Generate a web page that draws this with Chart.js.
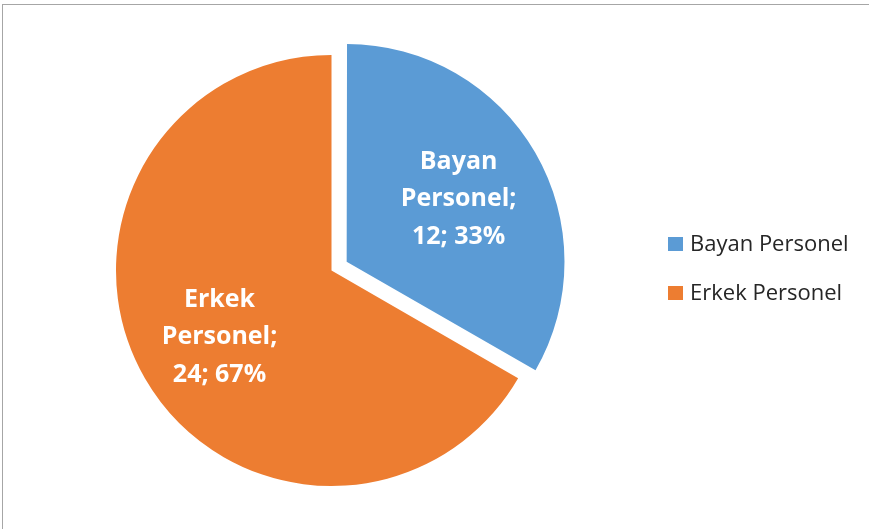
<!DOCTYPE html>
<html>
<head>
<meta charset="utf-8">
<script src="https://cdn.jsdelivr.net/npm/chart.js@4"></script>
<style>
  html, body { margin: 0; padding: 0; background: #fff; }
  #frame {
    position: absolute; left: 2px; top: 4px; width: 900px; height: 560px;
    border: 1px solid #a6a6a6; box-sizing: border-box;
  }
  #wrap { position: absolute; left: 0; top: 0; width: 869px; height: 529px; }
</style>
</head>
<body>
<div id="frame"></div>
<div id="wrap"><canvas id="pie" width="869" height="529"></canvas></div>
<script>
// chart data
const categories = ['Bayan Personel', 'Erkek Personel'];
const personelCounts = [12, 24];
const sliceColors = ['#5B9BD5', '#ED7D31'];

const total = personelCounts.reduce((a, b) => a + b, 0);

// white labels inside the slices: "name; value; percent"
const sliceLabels = {
  id: 'sliceLabels',
  afterDatasetsDraw(chart) {
    const ctx = chart.ctx;
    const meta = chart.getDatasetMeta(0);
    ctx.save();
    ctx.fillStyle = '#ffffff';
    ctx.font = 'bold 25px "Open Sans"';
    ctx.textAlign = 'center';
    ctx.textBaseline = 'alphabetic';
    meta.data.forEach((arc, i) => {
      const mid = (arc.startAngle + arc.endAngle) / 2;
      const shift = (arc.options.offset || 0) / 4; // arc draws with offset/4
      const dist = shift + arc.outerRadius * 0.6;
      const cx = arc.x + Math.cos(mid) * dist;
      const cy = arc.y + Math.sin(mid) * dist;
      const words = categories[i].split(' ');
      const pct = Math.round(personelCounts[i] / total * 100);
      const lines = [words[0], words.slice(1).join(' ') + ';', personelCounts[i] + '; ' + pct + '%'];
      lines.forEach((t, k) => {
        ctx.fillText(t, cx, cy + 9 + (k - 1) * 37.5);
      });
    });
    ctx.restore();
  }
};

// legend on the right, square markers
const sideLegend = {
  id: 'sideLegend',
  afterDraw(chart) {
    const ctx = chart.ctx;
    ctx.save();
    ctx.font = '22px "Open Sans"';
    ctx.textBaseline = 'middle';
    ctx.textAlign = 'left';
    categories.forEach((name, i) => {
      const y = 244 + i * 49;
      ctx.fillStyle = sliceColors[i];
      ctx.fillRect(668, y - 7, 15, 14);
      ctx.fillStyle = '#262626';
      ctx.fillText(name, 690, y + 1);
    });
    ctx.restore();
  }
};

new Chart(document.getElementById('pie').getContext('2d'), {
  type: 'pie',
  data: {
    labels: categories,
    datasets: [{
      data: personelCounts,
      backgroundColor: sliceColors,
      borderWidth: 0,
      offset: [70, 0],   // pull the first slice out
      hoverOffset: 0
    }]
  },
  options: {
    responsive: false,
    animation: false,
    layout: { padding: { left: 0, right: 206, top: 20, bottom: 8 } },
    plugins: {
      legend: { display: false },
      tooltip: { enabled: false }
    }
  },
  plugins: [sliceLabels, sideLegend]
});
</script>
</body>
</html>
